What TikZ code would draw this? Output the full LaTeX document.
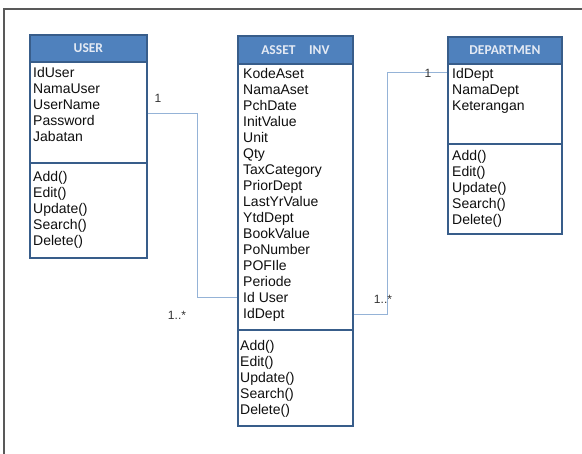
\documentclass[tikz,border=0pt]{standalone}
\usepackage{fontspec}
\setmainfont{Liberation Sans}
\newfontfamily\hdrfont{Carlito}
\definecolor{hdrblue}{RGB}{79,129,189}
\definecolor{edgeblue}{RGB}{56,93,138}
\definecolor{linkblue}{RGB}{149,179,215}
\definecolor{hdrtext}{RGB}{228,234,244}
\definecolor{txt}{RGB}{15,15,15}
\begin{document}
\begin{tikzpicture}[x=1pt,y=-1pt,
  frame/.style={draw=black!65, line width=1.3pt},
  classbox/.style={draw=edgeblue, line width=1.8pt, fill=white, anchor=north west, inner sep=0pt},
  hdrbox/.style={draw=edgeblue, line width=1.8pt, fill=hdrblue, anchor=north west, inner sep=0pt,
    text=hdrtext, font=\hdrfont\bfseries\fontsize{13.5}{15}\selectfont},
  divider/.style={draw=edgeblue, line width=1.8pt},
  member/.style={anchor=base west, inner sep=0pt, text=txt, font=\fontsize{14}{16}\selectfont},
  link/.style={draw=linkblue, line width=1pt},
  mult/.style={text=txt!85, font=\fontsize{12}{14}\selectfont, inner sep=0pt}
]
\useasboundingbox (0,0) rectangle (582,454);
\draw[frame] (4,454) -- (4,9) -- (582,9);

% ---------- USER ----------
\node[classbox, minimum width=117pt, minimum height=223pt] (user) at (29,34) {};
\node[hdrbox, minimum width=117pt, minimum height=27pt] (userhdr) at (29,34) {USER};
\draw[divider] (29,163) -- (146,163);
\foreach \t [count=\i] in {IdUser,NamaUser,UserName,Password,Jabatan}
  \node[member] (ua\i) at (33,78+16*\i-16) {\t};
\foreach \t [count=\i] in {Add(),Edit(),Update(),Search(),Delete()}
  \node[member] (um\i) at (33,182+16*\i-16) {\t};

% ---------- ASSET INV ----------
\node[classbox, minimum width=115pt, minimum height=390pt] (asset) at (237,35) {};
\node[hdrbox, minimum width=115pt, minimum height=28pt] (assethdr) at (237,35) {ASSET\hspace{1em}INV};
\draw[divider] (237,330) -- (352,330);
\foreach \t [count=\i] in {KodeAset,NamaAset,PchDate,InitValue,Unit,Qty,TaxCategory,PriorDept,LastYrValue,YtdDept,BookValue,PoNumber,POFIle,Periode,Id User,IdDept}
  \node[member] (aa\i) at (243,79+16*\i-16) {\t};
\foreach \t [count=\i] in {Add(),Edit(),Update(),Search(),Delete()}
  \node[member] (am\i) at (240,351+16*\i-16) {\t};

% ---------- DEPARTMEN ----------
\node[classbox, minimum width=114pt, minimum height=197pt] (dept) at (447,36) {};
\node[hdrbox, minimum width=114pt, minimum height=27pt] (depthdr) at (447,36) {DEPARTMEN};
\draw[divider] (447,144) -- (561,144);
\foreach \t [count=\i] in {IdDept,NamaDept,Keterangan}
  \node[member] (da\i) at (452,79+16*\i-16) {\t};
\foreach \t [count=\i] in {Add(),Edit(),Update(),Search(),Delete()}
  \node[member] (dm\i) at (452,161+16*\i-16) {\t};

% ---------- connectors ----------
\coordinate (yu) at (0,114);
\coordinate (xl) at (197,0);
\coordinate (yiduser) at (0,298);
\coordinate (xr) at (387,0);
\coordinate (yiddepta) at (0,315);
\coordinate (yiddeptd) at (0,73);
\draw[link] (user.east |- yu) -| (xl |- yiduser) -- (asset.west |- yiduser);
\draw[link] (asset.east |- yiddepta) -| (xr |- yiddeptd) -- (dept.west |- yiddeptd);

\node[mult] (m1) at (158,98) {1};
\node[mult] (m2) at (177,315) {1..*};
\node[mult] (m3) at (428,73) {1};
\node[mult] (m4) at (383,299) {1..*};
\end{tikzpicture}
\end{document}
